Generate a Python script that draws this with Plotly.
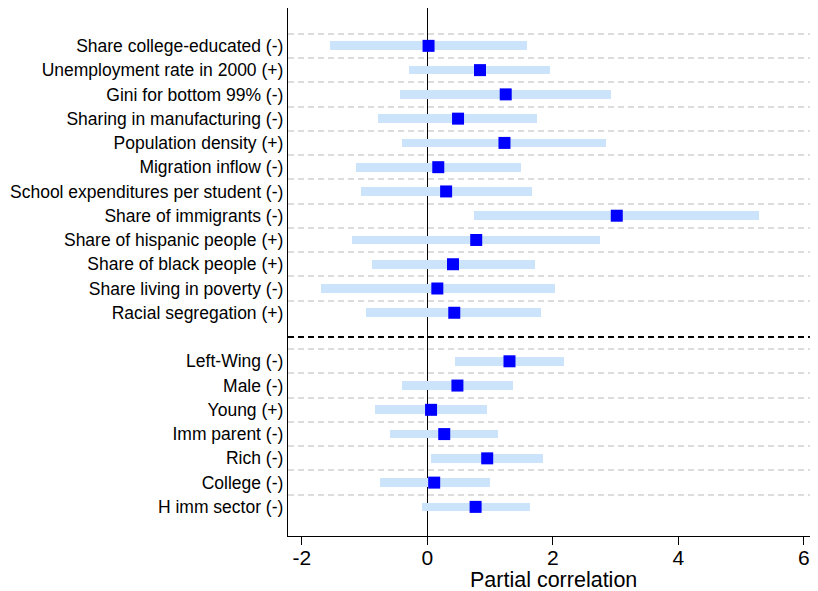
import plotly.graph_objects as go

labels = [
    "Share college-educated (-)", "Unemployment rate in 2000 (+)", "Gini for bottom 99% (-)",
    "Sharing in manufacturing (-)", "Population density (+)", "Migration inflow (-)",
    "School expenditures per student (-)", "Share of immigrants (-)", "Share of hispanic people (+)",
    "Share of black people (+)", "Share living in poverty (-)", "Racial segregation (+)",
    "Left-Wing (-)", "Male (-)", "Young (+)", "Imm parent (-)", "Rich (-)", "College (-)",
    "H imm sector (-)",
]
slots = [1, 2, 3, 4, 5, 6, 7, 8, 9, 10, 11, 12, 14, 15, 16, 17, 18, 19, 20]
point = [0.02, 0.84, 1.25, 0.49, 1.23, 0.175, 0.30, 3.02, 0.78, 0.41, 0.16, 0.43,
         1.31, 0.48, 0.06, 0.27, 0.955, 0.11, 0.77]
low = [-1.545, -0.287, -0.43, -0.78, -0.40, -1.14, -1.05, 0.74, -1.20, -0.876, -1.70, -0.97,
       0.44, -0.41, -0.84, -0.60, 0.06, -0.76, -0.085]
high = [1.59, 1.96, 2.93, 1.75, 2.85, 1.49, 1.67, 5.29, 2.76, 1.71, 2.04, 1.81,
        2.18, 1.36, 0.95, 1.13, 1.85, 1.0, 1.63]
grid_slots = [0.5, 1.5, 2.5, 3.5, 4.5, 5.5, 6.5, 7.5, 8.5, 9.5, 10.5, 11.5,
              13.5, 14.5, 15.5, 16.5, 17.5, 18.5, 19.5]
separator_slot = 13

fig = go.Figure()
fig.add_trace(go.Bar(
    y=slots, x=[h - l for h, l in zip(high, low)], base=low, orientation="h",
    width=0.36, marker=dict(color="#cce4fb", line=dict(width=0)), showlegend=False,
))
fig.add_trace(go.Scatter(
    y=slots, x=point, mode="markers",
    marker=dict(symbol="square", size=12, color="#0000ff", line=dict(width=0)),
    showlegend=False,
))

fig.add_shape(type="line", xref="paper", x0=0, x1=1, yref="y",
              y0=separator_slot, y1=separator_slot,
              line=dict(color="black", width=2, dash="6px,4px"), layer="above")

font = "Liberation Sans, Arial, sans-serif"
fig.add_annotation(text="Partial correlation", xref="paper", yref="paper",
                   x=0.5, y=-0.0833, xanchor="center", yanchor="middle",
                   showarrow=False, font=dict(size=21.5, family=font, color="black"))

fig.update_layout(
    width=810, height=583,
    margin=dict(l=280, r=0, t=0, b=55, autoexpand=False),
    plot_bgcolor="white", paper_bgcolor="white",
    font=dict(family=font, color="black"),
    bargap=0,
    xaxis=dict(
        range=[-2.22, 6.227], tickvals=[-2, 0, 2, 4, 6], ticktext=["-2", "0", "2", "4", "6"],
        ticks="outside", ticklen=8, tickwidth=1.3, tickcolor="black", ticklabelstandoff=-5,
        showline=True, linecolor="black", linewidth=1.3, automargin=False,
        showgrid=False, zeroline=True, zerolinecolor="black", zerolinewidth=1.3,
        tickfont=dict(size=21, family=font),
    ),
    yaxis=dict(
        range=[21.2, -0.56], tickvals=slots, ticktext=labels,
        ticks="outside", ticklen=0, tickcolor="rgba(0,0,0,0)", automargin=False,
        showline=True, linecolor="black", linewidth=1.3,
        showgrid=False, zeroline=False,
        tickfont=dict(size=17.5, family=font),
        minor=dict(tickmode="array", tickvals=grid_slots, showgrid=True,
                   gridcolor="#dcdcdc", gridwidth=1.5, griddash="6px,4px", ticks=""),
    ),
)

fig.write_html("out.html")
